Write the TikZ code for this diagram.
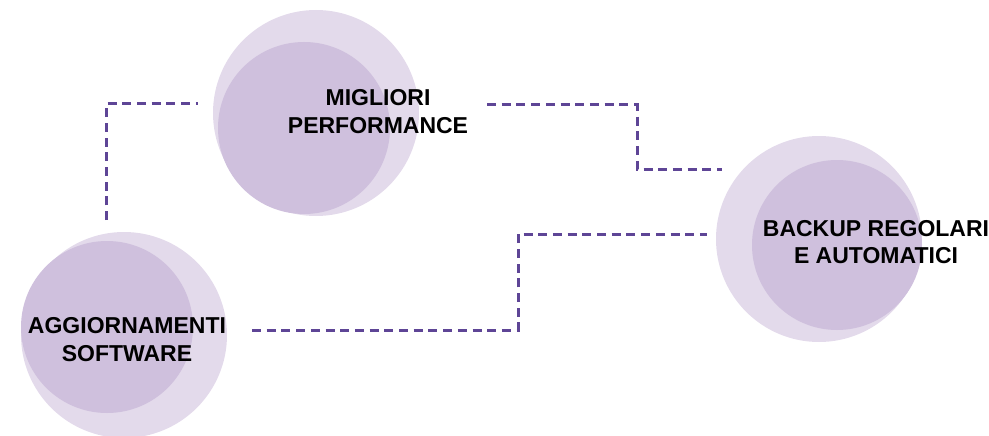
\documentclass[tikz,border=0pt]{standalone}
\usepackage{fontspec}
\setmainfont{Liberation Sans}
\definecolor{outerc}{HTML}{E3DAEB}
\definecolor{innerc}{HTML}{CFC0DD}
\definecolor{linec}{HTML}{5E4596}
\begin{document}
\begin{tikzpicture}[x=1pt,y=-1pt,
  outer/.style={circle,fill=outerc,draw=none,inner sep=0pt,minimum size=#1},
  inner/.style={circle,fill=innerc,draw=none,inner sep=0pt,minimum size=#1},
  label/.style={align=center,inner sep=0pt,font=\fontsize{23}{27.5}\selectfont\bfseries},
  conn/.style={draw=linec,line width=3pt,dash pattern=on 9pt off 5.7pt,line join=miter}]
\useasboundingbox (0,0) rectangle (989,436);
% circles
\node[outer=206pt] (o1) at (316,113) {};
\node[inner=172pt] (i1) at (304,128) {};
\node[outer=206pt] (o2) at (124,335) {};
\node[inner=172pt] (i2) at (107,327) {};
\node[outer=206pt] (o3) at (819,239) {};
\node[inner=170pt] (i3) at (837,245) {};
% labels
\node[label] (t1) at (378,111.5) {MIGLIORI\\PERFORMANCE};
\node[label] (t2) at (127,339.5) {AGGIORNAMENTI\\SOFTWARE};
\node[label] (t3) at (876,242) {BACKUP REGOLARI\\E AUTOMATICI};
% connector end points
\coordinate (a1) at (106,220);
\coordinate (a2) at (198,104);
\coordinate (b1) at (487,105);
\coordinate (b2) at (722,169);
\coordinate (c1) at (252,330);
\coordinate (c2) at (707,234);
\draw[conn] (a1) |- (a2);
\draw[conn] (b1) -- (637,105) -- (637,169) -- (b2);
\draw[conn] (c1) -- (518,330) -- (518,234) -- (c2);
\end{tikzpicture}
\end{document}
